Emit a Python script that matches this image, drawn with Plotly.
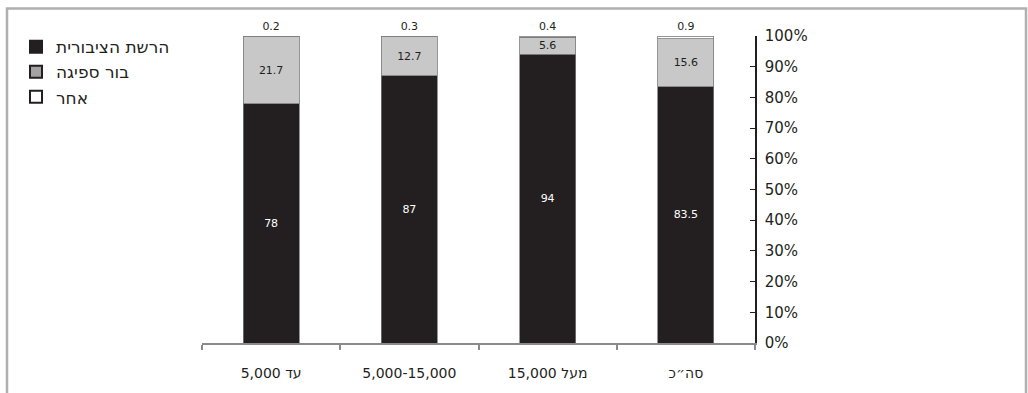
import plotly.graph_objects as go

# Categories (left to right) and shares per disposal type, in percent
categories = ["\u202bעד 5,000\u202c", "5,000-15,000", "\u202bמעל 15,000\u202c", "סה״כ"]
public_network = [78, 87, 94, 83.5]
cesspit = [21.7, 12.7, 5.6, 15.6]
other = [0.2, 0.3, 0.4, 0.9]

series_names = ["הרשת הציבורית", "בור ספיגה", "אחר"]
bar_colors = ["#231f20", "#c8c8c8", "#ffffff"]
legend_colors = ["#231f20", "#a3a3a3", "#ffffff"]

FONT = "DejaVu Sans"
W, H = 1028, 393
L, R, T, B = 202, 273, 36, 45
pw, ph = W - L - R, H - T - B


def px_x(p):
    return (p - L) / pw


def px_y(p):
    return (H - B - p) / ph


fig = go.Figure()

series = [public_network, cesspit, other]
text_colors = ["#ffffff", "#231f20", "#231f20"]
positions = ["inside", "inside", "outside"]
for vals, color, tcol, pos in zip(series, bar_colors, text_colors, positions):
    fig.add_trace(go.Bar(
        x=categories, y=vals, width=0.405,
        marker=dict(color=color, line=dict(color="#7a7a7a", width=0.8)),
        text=[f"{v:g}" for v in vals], textposition=pos,
        insidetextanchor="middle", textangle=0, constraintext="none",
        textfont=dict(family=FONT, size=11, color=tcol),
        outsidetextfont=dict(family=FONT, size=11, color=tcol),
        cliponaxis=False, showlegend=False, hoverinfo="skip",
    ))

# legend entries, each in its own group so the gap between rows can be set
for i, (name, color) in enumerate(zip(series_names, legend_colors)):
    fig.add_trace(go.Bar(
        x=[None], y=[None], name=name, legendgroup=f"g{i}",
        marker=dict(color=color, line=dict(color="#231f20", width=1)),
        showlegend=True,
    ))

fig.update_layout(
    width=W, height=H,
    margin=dict(l=L, r=R, t=T, b=B),
    barmode="stack",
    paper_bgcolor="white", plot_bgcolor="white",
    font=dict(family=FONT, size=13, color="#231f20"),
    legend=dict(
        x=px_x(16), y=px_y(29), xanchor="left", yanchor="top",
        font=dict(family=FONT, size=17, color="#231f20"),
        traceorder="normal", tracegroupgap=8, itemsizing="constant",
    ),
    xaxis=dict(
        type="category", range=[-0.5, 3.5],
        showline=True, linecolor="#8a8a8a", linewidth=1.5,
        ticks="outside", ticklen=5, tickcolor="#8a8a8a", tickwidth=1.5,
        tickson="boundaries", ticklabelstandoff=16,
        tickfont=dict(family=FONT, size=14, color="#231f20"),
        showgrid=False, zeroline=False, fixedrange=True,
    ),
    yaxis=dict(
        side="right", range=[0, 100], dtick=10, ticksuffix="%",
        showline=True, linecolor="#231f20", linewidth=1.5,
        ticks="inside", ticklen=5, tickcolor="#231f20", tickwidth=1,
        ticklabelstandoff=5,
        tickfont=dict(family=FONT, size=15, color="#231f20"),
        showgrid=False, zeroline=False, fixedrange=True,
    ),
    shapes=[
        dict(type="path", xref="paper", yref="paper",
             path=(f"M {px_x(7)} {px_y(400)} L {px_x(7)} {px_y(8)} "
                   f"L {px_x(1026)} {px_y(8)} L {px_x(1026)} {px_y(400)}"),
             line=dict(color="#b0b0b0", width=2.5)),
    ],
)

fig.write_html("out.html")
